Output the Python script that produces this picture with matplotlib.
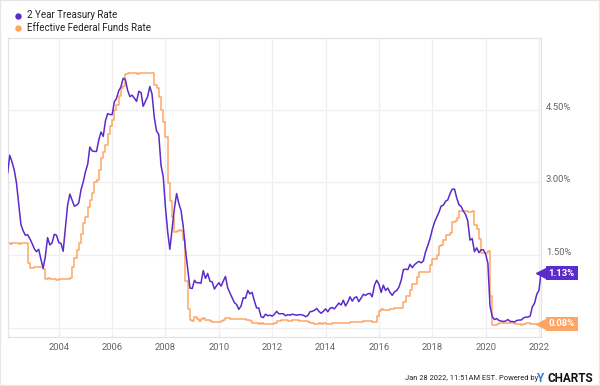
"""
2 Year Treasury Rate vs Effective Federal Funds Rate (YCharts style)
"""
import pandas as pd
import matplotlib.pyplot as plt
import matplotlib.dates as mdates
from matplotlib.lines import Line2D
from matplotlib.patches import Rectangle


# ==================== data ====================
# monthly values, Feb 2002 .. Jan 2022, plus the last quote on Jan 28 2022
treasury_2y = [
    3.20, 3.56, 3.42, 3.26, 2.99, 2.56, 2.13, 2.00, 1.91, 1.92, 1.84,
    1.74, 1.63, 1.57, 1.62, 1.42, 1.23, 1.47, 1.86, 1.71, 1.75, 1.93, 1.91,
    1.76, 1.74, 1.58, 2.07, 2.53, 2.76, 2.64, 2.51, 2.53, 2.58, 2.85, 3.01,
    3.22, 3.38, 3.73, 3.65, 3.64, 3.64, 3.87, 4.04, 3.95, 4.27, 4.42, 4.40,
    4.40, 4.67, 4.73, 4.89, 4.97, 5.15, 5.12, 4.90, 4.77, 4.80, 4.74, 4.67,
    4.88, 4.85, 4.57, 4.67, 4.77, 4.98, 4.82, 4.34, 4.06, 3.99, 3.35, 3.12,
    2.48, 1.97, 1.62, 2.05, 2.45, 2.77, 2.57, 2.42, 2.08, 1.61, 1.21, 0.82,
    0.81, 0.98, 0.93, 0.93, 0.92, 1.18, 1.02, 1.12, 0.96, 0.95, 0.80, 0.87,
    0.93, 0.86, 0.96, 1.06, 0.83, 0.72, 0.62, 0.52, 0.48, 0.38, 0.45, 0.62,
    0.61, 0.77, 0.70, 0.73, 0.56, 0.41, 0.41, 0.23, 0.21, 0.28, 0.25, 0.26,
    0.24, 0.28, 0.34, 0.29, 0.29, 0.29, 0.25, 0.27, 0.26, 0.28, 0.27, 0.26,
    0.27, 0.27, 0.26, 0.23, 0.25, 0.33, 0.34, 0.36, 0.40, 0.34, 0.30, 0.34,
    0.39, 0.33, 0.40, 0.42, 0.39, 0.45, 0.51, 0.47, 0.57, 0.45, 0.53, 0.64,
    0.55, 0.62, 0.64, 0.54, 0.61, 0.69, 0.67, 0.70, 0.71, 0.64, 0.88, 0.98,
    0.90, 0.73, 0.88, 0.77, 0.82, 0.73, 0.67, 0.74, 0.77, 0.84, 0.98, 1.20,
    1.21, 1.20, 1.31, 1.24, 1.30, 1.34, 1.37, 1.34, 1.38, 1.57, 1.70, 1.84,
    2.03, 2.18, 2.28, 2.38, 2.51, 2.53, 2.61, 2.64, 2.77, 2.86, 2.86, 2.68,
    2.54, 2.50, 2.41, 2.34, 2.21, 1.81, 1.84, 1.57, 1.65, 1.55, 1.61, 1.61,
    1.52, 1.33, 0.45, 0.23, 0.17, 0.19, 0.15, 0.14, 0.13, 0.14, 0.17, 0.13,
    0.13, 0.12, 0.15, 0.16, 0.16, 0.20, 0.22, 0.22, 0.24, 0.43, 0.51, 0.69,
    0.78, 1.13,
]

fed_funds = [
    1.74, 1.73, 1.75, 1.75, 1.75, 1.73, 1.74, 1.75, 1.75, 1.34, 1.24,
    1.24, 1.26, 1.25, 1.26, 1.26, 1.22, 1.01, 1.03, 1.01, 1.01, 1.00, 0.98,
    1.00, 1.01, 1.00, 1.00, 1.00, 1.03, 1.26, 1.43, 1.61, 1.76, 1.93, 2.16,
    2.28, 2.50, 2.63, 2.79, 3.00, 3.04, 3.26, 3.50, 3.62, 3.78, 4.00, 4.16,
    4.29, 4.49, 4.59, 4.79, 4.94, 4.99, 5.24, 5.25, 5.25, 5.25, 5.25, 5.24,
    5.25, 5.26, 5.26, 5.25, 5.25, 5.25, 5.26, 5.02, 4.94, 4.76, 4.49, 4.24,
    3.94, 2.98, 2.61, 2.28, 1.98, 2.00, 2.01, 2.00, 1.81, 0.97, 0.39, 0.16,
    0.15, 0.22, 0.18, 0.15, 0.18, 0.21, 0.16, 0.16, 0.15, 0.12, 0.12, 0.12,
    0.11, 0.13, 0.16, 0.20, 0.20, 0.18, 0.18, 0.19, 0.19, 0.19, 0.19, 0.18,
    0.17, 0.16, 0.14, 0.10, 0.09, 0.09, 0.07, 0.10, 0.08, 0.07, 0.08, 0.07,
    0.08, 0.10, 0.13, 0.14, 0.16, 0.16, 0.16, 0.13, 0.14, 0.16, 0.16, 0.16,
    0.14, 0.15, 0.14, 0.15, 0.11, 0.09, 0.09, 0.08, 0.08, 0.09, 0.08, 0.09,
    0.07, 0.07, 0.08, 0.09, 0.09, 0.10, 0.09, 0.09, 0.09, 0.09, 0.09, 0.12,
    0.11, 0.11, 0.11, 0.12, 0.12, 0.13, 0.13, 0.14, 0.14, 0.12, 0.12, 0.24,
    0.34, 0.38, 0.36, 0.37, 0.37, 0.38, 0.39, 0.40, 0.40, 0.40, 0.41, 0.54,
    0.65, 0.66, 0.79, 0.90, 0.91, 1.04, 1.15, 1.16, 1.15, 1.15, 1.16, 1.30,
    1.41, 1.42, 1.51, 1.69, 1.70, 1.82, 1.91, 1.91, 1.95, 2.19, 2.20, 2.27,
    2.40, 2.40, 2.41, 2.42, 2.39, 2.38, 2.40, 2.13, 2.04, 1.83, 1.55, 1.55,
    1.55, 1.58, 0.65, 0.05, 0.05, 0.08, 0.09, 0.10, 0.09, 0.09, 0.09, 0.09,
    0.09, 0.08, 0.07, 0.07, 0.06, 0.08, 0.10, 0.09, 0.08, 0.08, 0.08, 0.08,
    0.08, 0.08,
]

dates = list(pd.date_range('2002-02-01', '2022-01-01', freq='MS')) + [pd.Timestamp('2022-01-28')]

series_names = ['2 Year Treasury Rate', 'Effective Federal Funds Rate']
y_ticks = [1.5, 3.0, 4.5]
x_years = list(range(2004, 2023, 2))

PURPLE = '#5b2bcb'
ORANGE = '#fea566'
GRID = '#efefef'
FRAME = '#e4e4e4'
TXT = '#666666'


def main():
    plt.rcParams['font.family'] = ['Roboto', 'DejaVu Sans']

    W, H = 600, 386
    fig = plt.figure(figsize=(W / 100, H / 100), dpi=100)
    fig.patch.set_facecolor('white')
    fig.add_artist(Rectangle((0, 0), 1, 1, transform=fig.transFigure,
                             fill=False, edgecolor='#e6e6e6', linewidth=1.5))

    left, right, top, bottom = 7.7, 541, 38, 337
    ax = fig.add_axes([left / W, 1 - bottom / H, (right - left) / W, (bottom - top) / H])

    ax.plot(dates, fed_funds, color=ORANGE, linewidth=1.1, drawstyle='steps-post', zorder=2)
    ax.plot(dates, treasury_2y, color=PURPLE, linewidth=1.1, zorder=3)

    ax.set_xlim(dates[0], dates[-1])
    ax.set_ylim(-0.19, 5.98)

    # grid & frame
    ax.set_yticks([0.0] + y_ticks)
    ax.set_yticklabels([''] + ['%.2f%%' % v for v in y_ticks])
    ax.yaxis.tick_right()
    for lab in ax.get_yticklabels():
        lab.set_verticalalignment('baseline')
    ax.set_xticks([pd.Timestamp('%d-01-01' % y) for y in x_years])
    ax.xaxis.set_major_formatter(mdates.DateFormatter('%Y'))
    ax.tick_params(axis='both', length=0, labelsize=6.8, labelcolor=TXT)
    ax.tick_params(axis='y', pad=3.5)
    ax.tick_params(axis='x', pad=4)
    ax.grid(True, color=GRID, linewidth=0.9)
    ax.set_axisbelow(True)
    for sp in ax.spines.values():
        sp.set_color(FRAME)
        sp.set_linewidth(0.9)

    # end-value tags
    for vals, col in [(treasury_2y, PURPLE), (fed_funds, ORANGE)]:
        v = vals[-1]
        ax.plot([1.0], [v], marker='<', markersize=6.5, color=col, clip_on=False,
                transform=ax.get_yaxis_transform(), zorder=5)
        ax.annotate('%.2f%%' % v, xy=(1.0, v), xycoords=ax.get_yaxis_transform(),
                    xytext=(5.5, 0), textcoords='offset points', va='center', ha='left',
                    fontsize=6.8, fontweight='bold', color='white', zorder=6,
                    annotation_clip=False,
                    bbox=dict(boxstyle='square,pad=0.3', facecolor=col, edgecolor='none'))

    # legend
    for i, (name, col) in enumerate(zip(series_names, [PURPLE, ORANGE])):
        yy = 1 - (15.5 + 12.5 * i) / H
        fig.add_artist(Line2D([18 / W], [yy], marker='o', markersize=3.6, color=col,
                              linestyle='none', transform=fig.transFigure))
        fig.text(27 / W, yy, name, fontsize=7, color='#222222', va='center', ha='left')

    # footer
    fy = 1 - 378.5 / H
    fig.text(593 / W, fy, 'CHARTS', fontsize=8.5, fontweight='bold', color='#111111',
             ha='right', va='center')
    fig.text(544 / W, fy, 'Y', fontsize=8.5, fontweight='bold', color='#2f7fe0',
             ha='right', va='center')
    fig.text(538 / W, fy, 'Jan 28 2022, 11:51AM EST. Powered by', fontsize=5.4,
             color='#222222', ha='right', va='center')

    fig.savefig('out.png', dpi=100)


if __name__ == '__main__':
    main()
